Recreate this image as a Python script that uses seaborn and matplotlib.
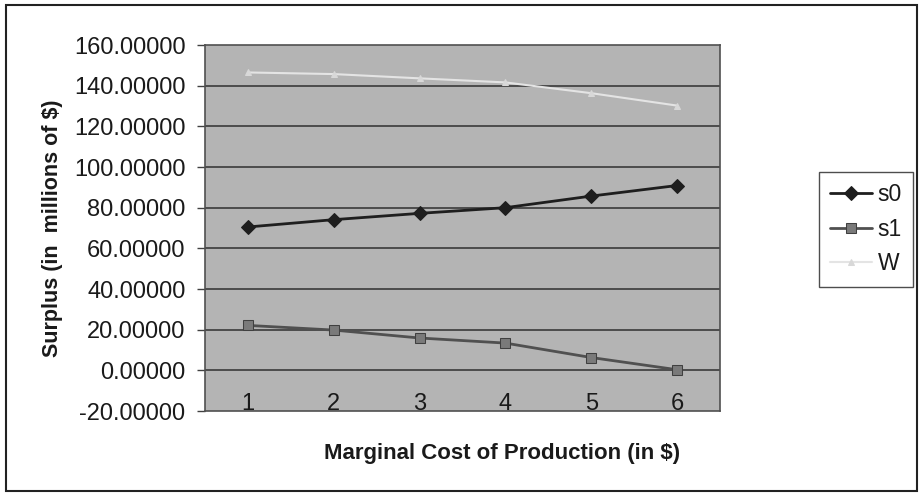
import matplotlib
matplotlib.use("Agg")
import matplotlib.pyplot as plt
import seaborn as sns
import pandas as pd
from matplotlib.patches import Rectangle
from matplotlib.ticker import FormatStrFormatter

# ---- data ----
cost = [1, 2, 3, 4, 5, 6]
s0 = [70.5, 74.1, 77.2, 80.0, 85.7, 90.9]
s1 = [22.1, 19.8, 15.9, 13.4, 6.3, 0.3]
W = [146.5, 145.7, 143.6, 141.6, 136.3, 130.2]
y_ticks = [-20, 0, 20, 40, 60, 80, 100, 120, 140, 160]

df = pd.DataFrame({"cost": cost, "s0": s0, "s1": s1, "W": W})

sns.set_style("white")
plt.rcParams["font.family"] = ["Liberation Sans", "DejaVu Sans"]

fig = plt.figure(figsize=(9.19, 4.95), dpi=100)
ax = fig.add_axes([205 / 919, 1 - 411 / 495, (720 - 205) / 919, (411 - 45) / 495])
ax.set_facecolor("#b4b4b4")

styles = {
    "s0": dict(color="#1e1e1e", marker="D", markersize=7, mfc="#1e1e1e", mec="#1e1e1e", lw=2),
    "s1": dict(color="#505050", marker="s", markersize=7, mfc="#7a7a7a", mec="#404040", lw=2),
    "W": dict(color="#e4e4e4", marker="^", markersize=5, mfc="#d8d8d8", mec="#d8d8d8", lw=1.5),
}
for name in ["s0", "s1", "W"]:
    st = styles[name]
    sns.lineplot(data=df, x="cost", y=name, ax=ax, label=name, color=st["color"],
                 marker=st["marker"], markersize=st["markersize"],
                 markerfacecolor=st["mfc"], markeredgecolor=st["mec"],
                 linewidth=st["lw"], zorder=3)

ax.set_xlim(0.5, 6.5)
ax.set_ylim(-20, 160)
ax.set_yticks(y_ticks)
ax.yaxis.set_major_formatter(FormatStrFormatter("%.5f"))
ax.set_xticks(cost)
ax.set_xticklabels([str(c) for c in cost])

for v in y_ticks[1:-1]:
    ax.axhline(v, color="#3a3a3a", linewidth=1.2, zorder=1)

for sp in ax.spines.values():
    sp.set_color("#505050")
    sp.set_linewidth(1.2)

ax.tick_params(axis="y", which="major", left=True, length=6, width=1, color="#404040",
               labelsize=17, pad=8, labelcolor="#1a1a1a")
ax.tick_params(axis="x", which="major", bottom=False, length=0, labelsize=17,
               pad=-13, labelcolor="#1a1a1a")

ax.set_xlabel("Marginal Cost of Production (in $)", fontsize=16, fontweight="bold",
              color="#1a1a1a")
ax.xaxis.set_label_coords((502 - 205) / 515, -(454 - 411) / 366, transform=ax.transAxes)
ax.xaxis.label.set_va("center")
ax.set_ylabel("Surplus (in  millions of $)", fontsize=15.5, fontweight="bold",
              color="#1a1a1a", labelpad=8)

leg = ax.legend(loc="upper left", bbox_to_anchor=(819 / 919, 1 - 172 / 495),
                bbox_transform=fig.transFigure, frameon=True, fancybox=False,
                fontsize=16.5, handlelength=1.8, handletextpad=0.25, borderpad=0.5,
                labelspacing=0.5, borderaxespad=0)
leg.get_frame().set_edgecolor("#222222")
leg.get_frame().set_linewidth(1)
leg.get_frame().set_facecolor("white")
for t in leg.get_texts():
    t.set_color("#1a1a1a")

# outer chart frame
fig.patches.append(Rectangle((6 / 919, 4 / 495), (917 - 6) / 919, (490 - 4) / 495,
                             transform=fig.transFigure, fill=False,
                             edgecolor="#222222", linewidth=1.5))

fig.savefig("out.png", dpi=100)
